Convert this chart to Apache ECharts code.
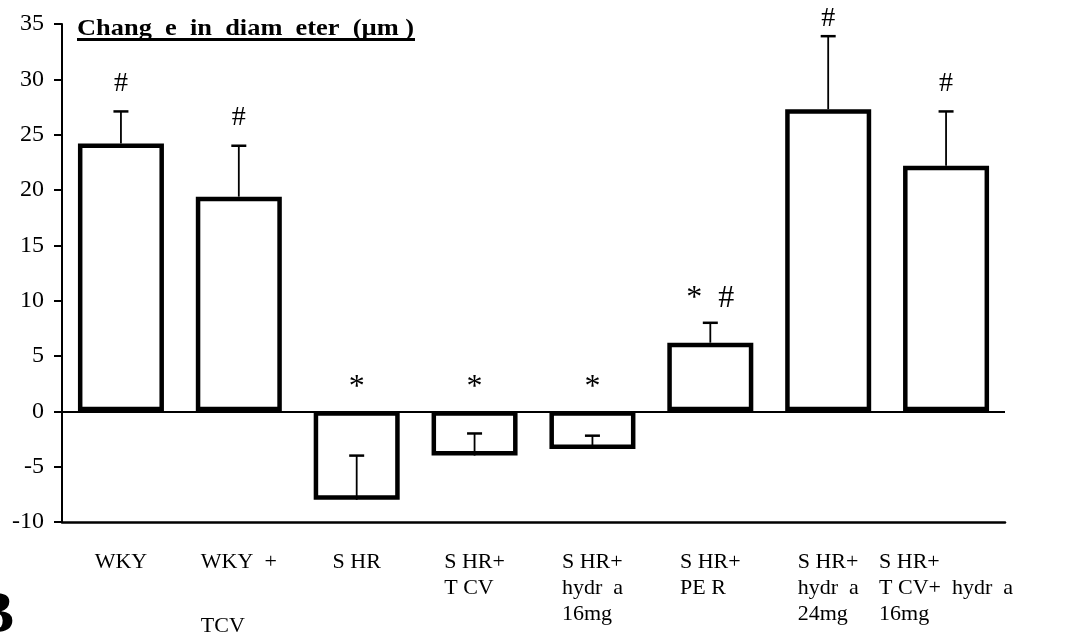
<!DOCTYPE html>
<html>
<head>
<meta charset="utf-8">
<script src="https://cdn.jsdelivr.net/npm/echarts@6/dist/echarts.min.js"></script>
<style>html,body{margin:0;padding:0;background:#fff}#c{width:1075px;height:635px}</style>
</head>
<body>
<div id="c"></div>
<script>
var categories = [
  ['WKY'],
  ['WKY  +', '', 'TCV'],
  ['S HR'],
  ['S HR+', 'T CV'],
  ['S HR+', 'hydr  a', '16mg'],
  ['S HR+', 'PE R'],
  ['S HR+', 'hydr  a', '24mg'],
  ['S HR+', 'T CV+  hydr  a', '16mg']
];
var means = [24.2, 19.4, -8.0, -4.0, -3.4, 6.2, 27.3, 22.2];
var sems = [2.9, 4.6, 4.0, 2.0, 1.2, 1.8, 6.6, 4.9];
var marks = ['#', '#', '*', '*', '*', '*  #', '#', '#'];
var yTicks = { min: -10, max: 35, interval: 5 };
var titleText = 'Chang  e  in  diam  eter  (\u00b5m )';

var FONT = '"Liberation Serif", "Times New Roman", serif';
var chart = echarts.init(document.getElementById('c'));
var catNames = categories.map(function (c, i) { return 'c' + i; });

var errData = means.map(function (m, i) { return [i, m, m + sems[i]]; });
var markData = means.map(function (m, i) { return [i, m > 0 ? m + sems[i] : 0, marks[i]]; });

chart.setOption({
  animation: false,
  grid: { left: 62, right: 70, top: 24, bottom: 113, containLabel: false, outerBoundsMode: 'none' },
  xAxis: {
    type: 'category',
    data: catNames,
    axisLine: { onZero: false, lineStyle: { color: '#000', width: 2.5 } },
    axisTick: { alignWithLabel: true, length: 10, lineStyle: { color: '#000', width: 2 } },
    axisLabel: {
      margin: 27,
      interval: 0,
      fontFamily: FONT,
      fontSize: 22,
      color: '#000',
      lineHeight: 26,
      formatter: function (v) {
        var i = +v.slice(1);
        return categories[i].map(function (s) { return s ? '{a|' + s + '}' : '{g| }'; }).join('\n');
      },
      rich: {
        a: { align: 'left', fontFamily: FONT, fontSize: 22, color: '#000', lineHeight: 26 },
        g: { align: 'left', fontFamily: FONT, fontSize: 22, color: '#000', lineHeight: 38 }
      }
    }
  },
  yAxis: {
    type: 'value',
    min: yTicks.min, max: yTicks.max, interval: yTicks.interval,
    splitLine: { show: false },
    axisLine: { show: true, lineStyle: { color: '#000', width: 2 } },
    axisTick: { show: true, length: 8, lineStyle: { color: '#000', width: 2 } },
    axisLabel: { fontFamily: FONT, fontSize: 24, color: '#000', margin: 18 }
  },
  series: [
    {
      type: 'bar',
      data: means,
      barWidth: 86,
      itemStyle: { color: '#fff', borderColor: '#000', borderWidth: 4.5 },
      markLine: {
        silent: true,
        symbol: 'none',
        label: { show: false },
        lineStyle: { color: '#000', width: 2, type: 'solid' },
        data: [{ yAxis: 0 }]
      },
      z: 2
    },
    {
      type: 'custom',
      data: errData,
      z: 3,
      renderItem: function (params, api) {
        var x = api.coord([api.value(0), api.value(1)]);
        var e = api.coord([api.value(0), api.value(2)]);
        return {
          type: 'group',
          children: [
            { type: 'line', shape: { x1: x[0], y1: x[1], x2: e[0], y2: e[1] }, style: { stroke: '#000', lineWidth: 1.8 } },
            { type: 'line', shape: { x1: e[0] - 7.5, y1: e[1], x2: e[0] + 7.5, y2: e[1] }, style: { stroke: '#000', lineWidth: 2.5 } }
          ]
        };
      }
    },
    {
      type: 'custom',
      data: markData,
      z: 4,
      renderItem: function (params, api) {
        var p = api.coord([api.value(0), api.value(1)]);
        var txt = marks[params.dataIndex];
        var star = txt.indexOf('*') >= 0;
        return {
          type: 'text',
          x: p[0],
          y: Math.max(p[1] - 28, 19) + (star ? 4 : 0),
          style: {
            text: txt,
            fontFamily: FONT,
            fontSize: star ? 32 : 28,
            fill: '#000',
            align: 'center',
            verticalAlign: 'middle'
          }
        };
      }
    }
  ],
  graphic: [
    {
      type: 'text', left: 77, top: 17, scaleX: 1.1,
      style: { text: titleText, fontFamily: FONT, fontSize: 24, fontWeight: 'bold', fill: '#000' }
    },
    {
      type: 'line', shape: { x1: 77, y1: 39.5, x2: 415, y2: 39.5 },
      style: { stroke: '#000', lineWidth: 3 }
    },
    {
      type: 'text', left: -26, top: 586,
      style: { text: 'B', fontFamily: FONT, fontSize: 60, fontWeight: 'bold', fill: '#000' }
    }
  ]
});
</script>
</body>
</html>
